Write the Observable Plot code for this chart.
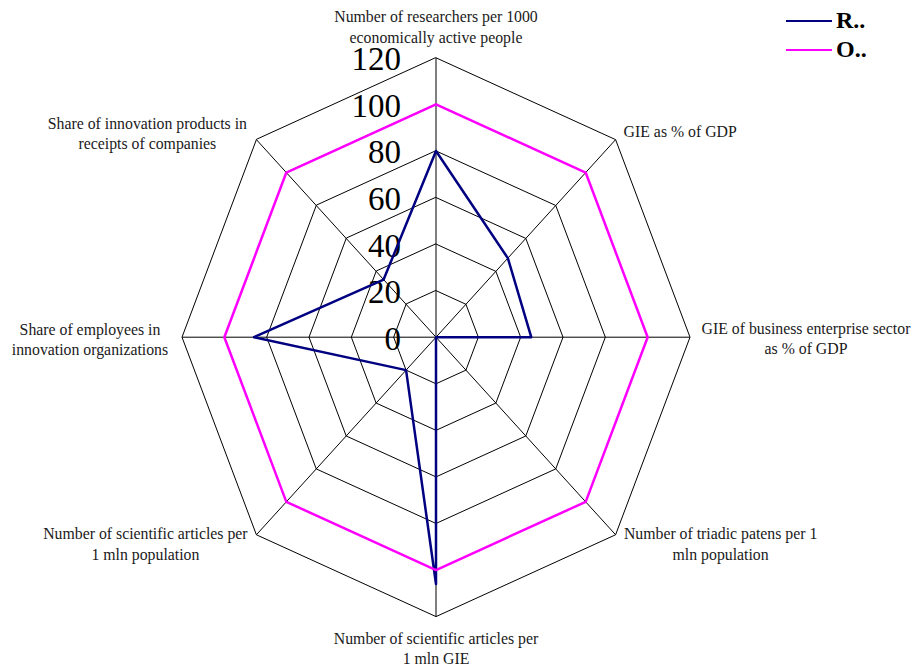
<!DOCTYPE html>
<html>
<head>
<meta charset="utf-8">
<script src="https://cdn.jsdelivr.net/npm/d3@7"></script>
<script src="https://cdn.jsdelivr.net/npm/@observablehq/plot@0.6"></script>
<style>
  html, body { margin: 0; padding: 0; background: #fff; }
  #wrap { position: relative; width: 916px; height: 668px; }
  #legend { position: absolute; left: 786px; top: 6px; font-family: "Liberation Serif", "Times New Roman", serif; font-weight: bold; font-size: 24px; }
  .item { display: flex; align-items: center; height: 29px; }
  .sw { width: 46px; height: 0; border-top: 2.5px solid; margin-right: 4px; }
</style>
</head>
<body>
<div id="wrap"><div id="legend"></div></div>
<script>
const axes = [
  "Number of researchers per 1000\neconomically active people",
  "GIE as % of GDP",
  "GIE of business enterprise sector\nas % of GDP",
  "Number of triadic patens per 1\nmln population",
  "Number of scientific articles per\n1 mln GIE",
  "Number of scientific articles per\n1 mln population",
  "Share of employees in\ninnovation organizations",
  "Share of innovation products in\nreceipts of companies"
];
const seriesNames = ["R..", "O.."];
const seriesR = [80, 48, 45, 0, 106, 20, 86, 35];
const seriesO = [100, 100, 100, 100, 100, 100, 100, 100];
const ticks = [0, 20, 40, 60, 80, 100, 120];
const colors = ["#000080", "#FF00FF"];

const FONT = "'Liberation Serif', 'Times New Roman', serif";
const maxV = 120;

function pt(i, v) {
  const a = i * Math.PI / 4;
  return {x: v * Math.sin(a), y: v * Math.cos(a)};
}

const rings = ticks.filter(t => t > 0).flatMap(t => axes.map((_, i) => ({ring: t, ...pt(i, t)})));
const spokes = axes.map((name, i) => ({name, ...pt(i, maxV)}));
const seriesData = [
  ...seriesR.map((v, i) => ({series: seriesNames[0], ...pt(i, v)})),
  ...seriesO.map((v, i) => ({series: seriesNames[1], ...pt(i, v)}))
];

// label placement relative to each axis end (layout only)
const labelLayout = [
  {anchor: "middle", dx: 0, dy: -32},
  {anchor: "start", dx: 8, dy: -9},
  {anchor: "middle", dx: 116, dy: 0},
  {anchor: "middle", dx: 105, dy: 8},
  {anchor: "middle", dx: 0, dy: 31},
  {anchor: "middle", dx: -111, dy: 8},
  {anchor: "middle", dx: -92, dy: 1},
  {anchor: "middle", dx: -109, dy: -7}
];

const labelMarks = spokes.map((s, i) => Plot.text([s], {
  x: "x", y: "y", text: "name",
  textAnchor: labelLayout[i].anchor,
  lineAnchor: "middle",
  dx: labelLayout[i].dx, dy: labelLayout[i].dy,
  fontSize: 15.8, lineHeight: 1.3, fontFamily: FONT, fill: "#1a1a1a"
}));

const chart = Plot.plot({
  width: 916,
  height: 668,
  margin: 0,
  x: {domain: [-120, 120], range: [181.5, 689.5], axis: null},
  y: {domain: [-120, 120], range: [616.1, 57.3], axis: null},
  color: {domain: seriesNames, range: colors},
  style: {background: "#fff", fontFamily: FONT},
  marks: [
    Plot.line(rings, {x: "x", y: "y", z: "ring", curve: "linear-closed", stroke: "#000", strokeWidth: 1}),
    Plot.link(spokes, {x1: () => 0, y1: () => 0, x2: "x", y2: "y", stroke: "#000", strokeWidth: 1}),
    Plot.text(ticks, {x: () => 0, y: d => d, text: d => String(d), textAnchor: "end", lineAnchor: "middle", dx: -35, dy: 2, fontSize: 33, fontFamily: FONT, fill: "#000"}),
    Plot.line(seriesData, {x: "x", y: "y", z: "series", stroke: "series", curve: "linear-closed", strokeWidth: 2.5}),
    ...labelMarks
  ]
});

const wrap = document.getElementById("wrap");
wrap.insertBefore(chart, wrap.firstChild);

const legend = document.getElementById("legend");
seriesNames.forEach((n, i) => {
  const it = document.createElement("div");
  it.className = "item";
  const sw = document.createElement("span");
  sw.className = "sw";
  sw.style.borderTopColor = colors[i];
  const tx = document.createElement("span");
  tx.textContent = n;
  it.appendChild(sw); it.appendChild(tx);
  legend.appendChild(it);
});
</script>
</body>
</html>
